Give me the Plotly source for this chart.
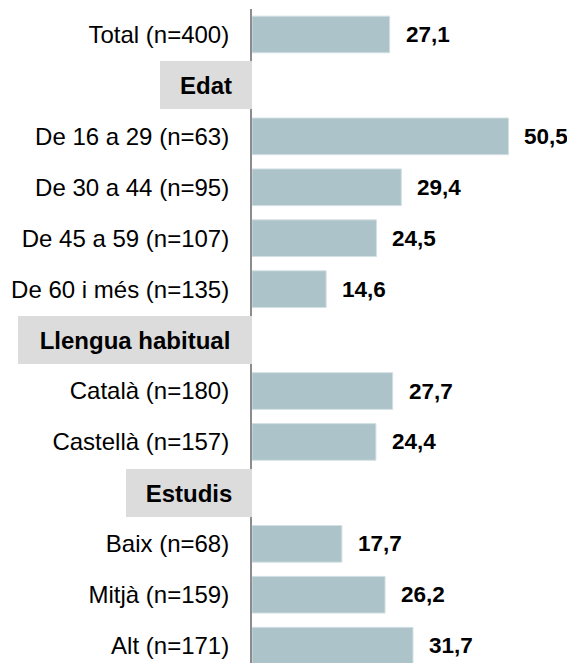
import plotly.graph_objects as go

# ---- data ----
categories = [
    "Total (n=400)",
    "Edat",
    "De 16 a 29 (n=63)",
    "De 30 a 44 (n=95)",
    "De 45 a 59 (n=107)",
    "De 60 i més (n=135)",
    "Llengua habitual",
    "Català (n=180)",
    "Castellà (n=157)",
    "Estudis",
    "Baix (n=68)",
    "Mitjà (n=159)",
    "Alt (n=171)",
]
values = [27.1, None, 50.5, 29.4, 24.5, 14.6, None, 27.7, 24.4, None, 17.7, 26.2, 31.7]
headers = ["Edat", "Llengua habitual", "Estudis"]

# ---- style ----
FONT = "Liberation Sans, Arial, sans-serif"
FS_LABEL = 24
FS_VALUE = 22.5
FS_HEADER = 24
BAR_COLOR = "#abc3c9"
BAR_EDGE = "#d3e0e3"
HEADER_BG = "#dcdcdc"
HEADER_BOX_W = {"Edat": 92, "Llengua habitual": 234, "Estudis": 126}
HEADER_BOX_H = 48

idx = list(range(len(categories)))
bar_y = [i for i, v in zip(idx, values) if v is not None]
bar_x = [v for v in values if v is not None]

fig = go.Figure()
fig.add_trace(go.Bar(
    x=bar_x, y=bar_y, orientation="h", width=0.72,
    marker=dict(color=BAR_COLOR, line=dict(color=BAR_EDGE, width=1)),
    hoverinfo="skip",
))

annotations = []
for y, v in zip(bar_y, bar_x):
    annotations.append(dict(
        x=v, y=y, xref="x", yref="y", text=f"<b>{v:.1f}</b>".replace(".", ","),
        showarrow=False, xanchor="left", yanchor="middle", xshift=14,
        font=dict(family=FONT, size=FS_VALUE, color="#000000"),
    ))
for i, c in enumerate(categories):
    if c in headers:
        annotations.append(dict(
            x=0, y=i, xref="paper", yref="y", text=f"<b>{c}</b>",
            showarrow=False, xanchor="right", yanchor="middle",
            width=HEADER_BOX_W[c], height=HEADER_BOX_H, align="center", valign="middle",
            bgcolor=HEADER_BG, borderpad=0, borderwidth=0,
            font=dict(family=FONT, size=FS_HEADER, color="#000000"),
        ))

ticktext = ["" if c in headers else c for c in categories]

# the page body has an 8px default margin; size the figure to fill the rest
fig.update_layout(
    width=567, height=655,
    margin=dict(l=244, r=0, t=1, b=0),
    plot_bgcolor="white", paper_bgcolor="white",
    showlegend=False,
    font=dict(family=FONT, size=FS_LABEL, color="#000000"),
    annotations=annotations,
    xaxis=dict(range=[0, 63.6], visible=False, fixedrange=True),
    yaxis=dict(
        range=[12.34, -0.5], tickvals=idx, ticktext=ticktext,
        showgrid=False, zeroline=False, showline=True, linecolor="#8c8c8c", linewidth=2,
        ticks="", ticklabelstandoff=16,
        tickfont=dict(family=FONT, size=FS_LABEL, color="#000000"),
        fixedrange=True,
    ),
)

fig.write_html("out.html")
